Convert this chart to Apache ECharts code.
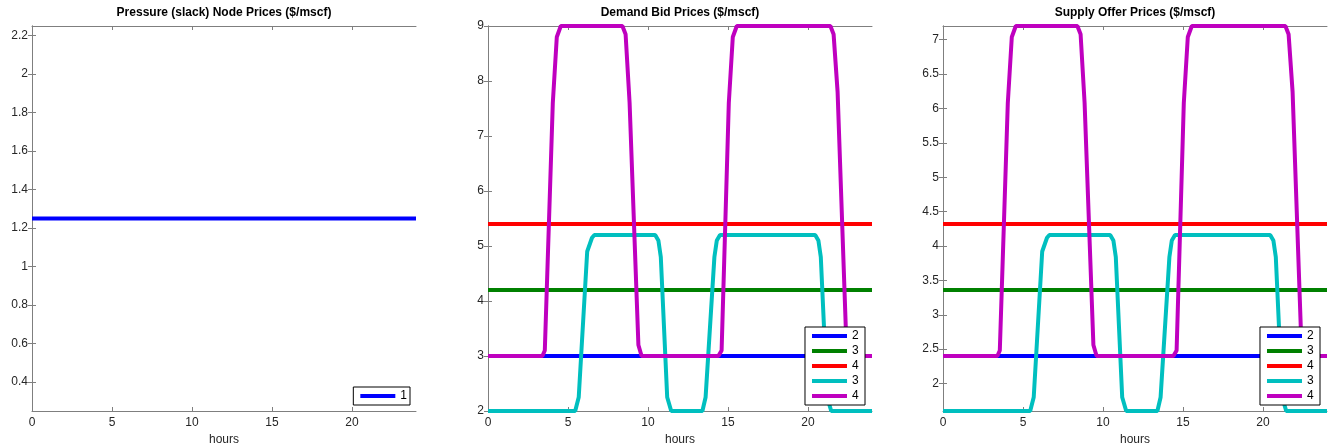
<!DOCTYPE html>
<html>
<head>
<meta charset="utf-8">
<script src="https://cdn.jsdelivr.net/npm/echarts@6/dist/echarts.min.js"></script>
<style>
html, body { margin: 0; padding: 0; background: #fff; }
#main { width: 1333px; height: 445px; }
</style>
</head>
<body>
<div id="main"></div>
<script>
// tick labels
var hourTicks = [0, 5, 10, 15, 20];
var slackTicks = [0.4, 0.6, 0.8, 1, 1.2, 1.4, 1.6, 1.8, 2, 2.2];
var demandTicks = [2, 3, 4, 5, 6, 7, 8, 9];
var supplyTicks = [2, 2.5, 3, 3.5, 4, 4.5, 5, 5.5, 6, 6.5, 7];

// flat price lines (start and end hour)
var spanHours = [0, 24];
var slackPrice = 1.25;
var flatNodes = ['2', '3', '4'];
var demandFlat = [3.0, 4.2, 5.4];
var supplyFlat = [2.4, 3.36, 4.32];

// node 3 (time varying)
var node3Hours = [0, 5.45, 5.67, 6.2, 6.5, 6.65, 10.45, 10.65, 10.8, 11.2, 11.45,
  13.4, 13.6, 14.15, 14.3, 14.5, 20.45, 20.65, 20.8, 21.2, 21.45, 24];
var demandNode3 = [2, 2, 2.25, 4.9, 5.15, 5.2, 5.2, 5.1, 4.8, 2.25, 2,
  2, 2.25, 4.8, 5.1, 5.2, 5.2, 5.1, 4.8, 2.25, 2, 2];
var supplyNode3 = [1.6, 1.6, 1.8, 3.92, 4.12, 4.16, 4.16, 4.08, 3.84, 1.8, 1.6,
  1.6, 1.8, 3.84, 4.08, 4.16, 4.16, 4.08, 3.84, 1.8, 1.6, 1.6];

// node 4 (time varying)
var node4Hours = [0, 3.4, 3.55, 4.05, 4.3, 4.55, 8.4, 8.6, 8.85, 9.4, 9.6,
  14.4, 14.6, 15.05, 15.3, 15.55, 21.4, 21.6, 21.85, 22.4, 22.6, 24];
var demandNode4 = [3, 3, 3.1, 7.6, 8.8, 9, 9, 8.85, 7.6, 3.2, 3,
  3, 3.1, 7.6, 8.8, 9, 9, 8.85, 7.8, 3.2, 3, 3];
var supplyNode4 = [2.4, 2.4, 2.48, 6.08, 7.04, 7.2, 7.2, 7.08, 6.08, 2.56, 2.4,
  2.4, 2.48, 6.08, 7.04, 7.2, 7.2, 7.08, 6.24, 2.56, 2.4, 2.4];

var colors = ['#0000ff', '#008000', '#ff0000', '#00bfbf', '#bf00bf'];
var font = '"Liberation Sans", Arial, sans-serif';

function pairs(xs, ys) {
  return xs.map(function (x, i) { return [x, ys[i]]; });
}
function flat(v) {
  return [[spanHours[0], v], [spanHours[1], v]];
}

var grids = [
  { left: 32, top: 26, width: 384, height: 385, outerBoundsMode: 'none', containLabel: false },
  { left: 488, top: 26, width: 384, height: 385, outerBoundsMode: 'none', containLabel: false },
  { left: 943, top: 26, width: 384, height: 385, outerBoundsMode: 'none', containLabel: false }
];
var yRanges = [[0.25, 2.25, slackTicks], [2, 9, demandTicks], [1.6, 7.2, supplyTicks]];

var axisLine = { show: true, lineStyle: { color: '#7f7f7f', width: 1 } };
var tickStyle = { color: '#7f7f7f' };
var labelStyle = { color: '#262626', fontSize: 12, fontFamily: font };
var xAxes = [], yAxes = [];
grids.forEach(function (g, i) {
  xAxes.push({
    type: 'value', gridIndex: i, min: 0, max: 24, position: 'bottom',
    axisLine: axisLine, splitLine: { show: false },
    axisTick: { inside: true, length: 4, customValues: hourTicks, lineStyle: tickStyle },
    axisLabel: Object.assign({ customValues: hourTicks, margin: 6 }, labelStyle),
    name: 'hours', nameLocation: 'middle', nameGap: 16,
    nameTextStyle: labelStyle
  });
  xAxes.push({
    type: 'value', gridIndex: i, min: 0, max: 24, position: 'top',
    axisLine: axisLine, splitLine: { show: false },
    axisTick: { inside: true, length: 4, customValues: hourTicks, lineStyle: tickStyle },
    axisLabel: { show: false }
  });
  var r = yRanges[i];
  yAxes.push({
    type: 'value', gridIndex: i, min: r[0], max: r[1], position: 'left',
    axisLine: axisLine, splitLine: { show: false },
    axisTick: { show: true, inside: true, length: 4, customValues: r[2], lineStyle: tickStyle },
    axisLabel: Object.assign({ customValues: r[2], margin: 4 }, labelStyle)
  });
  yAxes.push({
    type: 'value', gridIndex: i, min: r[0], max: r[1], position: 'right',
    axisLine: axisLine, splitLine: { show: false },
    axisTick: { show: true, inside: true, length: 4, customValues: r[2], lineStyle: tickStyle },
    axisLabel: { show: false }
  });
});

function line(name, data, color, gi) {
  return {
    name: name, type: 'line', data: data, xAxisIndex: gi * 2, yAxisIndex: gi * 2,
    showSymbol: false, symbol: 'none', clip: false, animation: false,
    itemStyle: { color: color },
    lineStyle: { color: color, width: 4 }
  };
}

var series = [line('1', flat(slackPrice), colors[0], 0)];
// unique names for repeated legend labels (trailing space)
var legendNames = ['2', '3', '4', '3 ', '4 '];
[[demandFlat, demandNode3, demandNode4, 1], [supplyFlat, supplyNode3, supplyNode4, 2]].forEach(function (p) {
  var gi = p[3];
  flatNodes.forEach(function (n, k) {
    series.push(line(legendNames[k], flat(p[0][k]), colors[k], gi));
  });
  series.push(line(legendNames[3], pairs(node3Hours, p[1]), colors[3], gi));
  series.push(line(legendNames[4], pairs(node4Hours, p[2]), colors[4], gi));
});

function legend(names, right) {
  return {
    data: names, orient: 'vertical', right: right, bottom: 40,
    icon: 'rect', itemWidth: 35, itemHeight: 4, itemGap: 1,
    padding: [2, 3, 2, 7],
    backgroundColor: '#fff', borderColor: '#000', borderWidth: 1,
    selectedMode: false,
    textStyle: { fontSize: 12, fontFamily: font, color: '#000', lineHeight: 14 }
  };
}

var titles = ['Pressure (slack) Node Prices ($/mscf)', 'Demand Bid Prices ($/mscf)', 'Supply Offer Prices ($/mscf)'];

var option = {
  animation: false,
  backgroundColor: '#fff',
  grid: grids,
  xAxis: xAxes,
  yAxis: yAxes,
  legend: [legend(['1'], 923), legend(legendNames, 468), legend(legendNames, 13)],
  graphic: titles.map(function (t, i) {
    return {
      type: 'text', x: grids[i].left + grids[i].width / 2, y: 13,
      style: { text: t, align: 'center', verticalAlign: 'middle', fill: '#000', font: 'bold 12px ' + font }
    };
  }),
  series: series
};

var myChart = echarts.init(document.getElementById('main'));
myChart.setOption(option);
</script>
</body>
</html>
